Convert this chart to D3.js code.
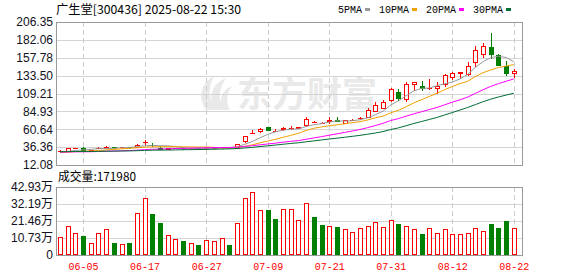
<!DOCTYPE html>
<html>
<head>
<meta charset="utf-8">
<script src="https://cdn.jsdelivr.net/npm/d3@7"></script>
<style>
  body { margin: 0; background: #fff; }
</style>
</head>
<body>
<div id="chart"></div>
<script>
// ---- data ----
const stockTitle = "广生堂[300436] 2025-08-22 15:30";
const volumeLabel = "成交量";

const dates = ["05-30","06-03","06-04","06-05","06-06","06-09","06-10","06-11","06-12","06-13",
  "06-16","06-17","06-18","06-19","06-20","06-23","06-24","06-25","06-26","06-27",
  "06-30","07-01","07-02","07-03","07-04","07-07","07-08","07-09","07-10","07-11",
  "07-14","07-15","07-16","07-17","07-18","07-21","07-22","07-23","07-24","07-25",
  "07-28","07-29","07-30","07-31","08-01","08-04","08-05","08-06","08-07","08-08",
  "08-11","08-12","08-13","08-14","08-15","08-18","08-19","08-20","08-21","08-22"];

const opens = [30.8,31.1,35.1,35.8,31.6,34.8,36.3,36.6,36.0,36.0,
  37.0,43.0,39.5,35.6,34.4,34.8,34.9,34.6,34.8,34.5,
  35.3,35.9,36.3,35.8,45.2,55.6,58.5,63.7,58.2,61.3,
  62.2,62.9,66.0,70.6,69.3,72.4,72.6,69.1,73.0,75.4,
  77.3,85.8,90.0,100.4,111.2,101.7,121.7,119.9,116.4,117.1,
  122.8,132.3,136.7,136.0,152.5,162.3,173.0,161.2,146.0,137.6];
const highs = [31.8,35.4,35.6,36.0,33.0,36.0,37.6,36.8,36.4,36.3,
  41.0,46.0,41.3,36.0,35.2,35.3,35.1,35.0,34.9,35.1,
  36.5,36.4,36.5,41.2,51.5,59.6,62.7,64.0,61.0,63.4,
  65.0,64.2,77.0,71.5,70.0,77.3,76.8,73.6,74.0,77.3,
  89.5,97.7,100.4,116.8,115.3,125.2,125.0,126.2,129.0,124.8,
  135.3,138.6,138.2,152.0,174.0,177.8,191.5,162.5,154.0,142.5];
const lows = [30.3,30.9,34.9,32.0,31.2,34.5,35.8,35.7,35.7,35.6,
  36.1,40.6,38.4,33.8,34.0,34.5,34.4,34.4,34.3,34.3,
  35.0,35.7,35.8,35.5,43.8,55.3,57.4,59.0,58.0,60.3,
  60.5,62.5,65.6,70.2,69.0,68.7,72.0,68.8,72.6,75.2,
  77.0,85.0,89.0,99.0,100.4,99.4,114.0,114.0,115.3,110.3,
  120.0,129.3,129.7,134.3,146.5,159.2,157.5,147.5,134.0,131.3];
const closes = [31.2,35.2,35.4,32.4,32.7,35.4,36.8,36.0,36.1,35.9,
  39.3,43.4,38.8,34.2,34.8,35.0,34.6,34.8,34.5,34.9,
  35.8,36.2,36.0,41.0,51.2,56.0,61.0,59.2,58.4,62.1,
  62.9,63.3,75.0,70.9,69.5,72.9,72.3,73.2,73.4,75.7,
  86.5,93.0,97.7,115.8,103.1,121.7,124.8,116.3,117.0,119.0,
  134.8,136.4,137.8,146.6,168.0,173.7,163.0,148.6,137.3,139.3];
const volumes = [111000,186000,136000,119000,73000,136000,161000,75000,67000,75000,
  264000,362000,258000,201000,124000,98000,88000,74000,62000,92000,
  86000,105000,61000,199000,362000,400000,287000,283000,226000,293000,
  293000,224000,331000,239000,188000,186000,176000,161000,144000,168000,
  186000,207000,174000,218000,195000,186000,161000,132000,168000,138000,
  161000,132000,130000,138000,168000,151000,195000,170000,214000,171980];

// closes before the window, needed for the moving averages at the left edge
const priorCloses = [31.5,31.8,32.2,31.9,31.4,31.0,31.6,32.0,31.2,30.8,
  30.5,30.9,31.3,30.6,30.2,29.8,29.5,29.9,29.3,28.9,
  28.7,28.4,28.9,28.6,28.3,28.8,29.0,28.5,28.7];

const priceTicks = [206.35,182.06,157.78,133.50,109.21,84.93,60.64,36.36,12.08];
const volumeTicks = [0,107325,214650,321975,429300];
const volumeTickLabels = ["0","10.73万","21.46万","32.19万","42.93万"];
const dateTicks = ["06-05","06-17","06-27","07-09","07-21","07-31","08-12","08-22"];
const maPeriods = [5,10,20,30];
const maNames = ["5PMA","10PMA","20PMA","30PMA"];

// ---- drawing ----
const width = 578, height = 276;
const left = 56, right = 522;
const mainTop = 22, mainBottom = 165;
const volTop = 187, volBottom = 255;

const upColor = "#ff0000", downColor = "#008000";
const maColors = ["#999999", "#f0a000", "#ff00ff", "#006e35"];
const gridColor = "#d4d4d4", borderColor = "#999999";
const labelFont = "'Liberation Sans', Arial, sans-serif";
const monoFont = "'Liberation Mono', 'DejaVu Sans Mono', monospace";
const cjkFont = "'Noto Sans CJK SC', sans-serif";

const svg = d3.select("#chart").append("svg")
  .attr("width", width)
  .attr("height", height)
  .style("display", "block")
  .style("background", "#fff");

const x = d3.scalePoint().domain(dates).range([60, 513.8]);
const y = d3.scaleLinear().domain([priceTicks[priceTicks.length - 1], priceTicks[0]]).range([mainBottom, mainTop]);
const yv = d3.scaleLinear().domain([0, volumeTicks[volumeTicks.length - 1]]).range([volBottom, volTop]);

const px = v => Math.round(v) + 0.5;

// watermark
const wm = svg.append("g").attr("fill", "#e9e9e9");
wm.append("path")
  .attr("d", "M206,110 C198,98 200,84 214,76 C208,88 208,100 216,110 Z M214,110 C208,96 212,84 226,78 C218,90 218,100 224,110 Z M222,110 C218,100 222,90 232,86 C226,94 226,102 230,110 Z");
wm.append("text")
  .attr("x", 237).attr("y", 107)
  .attr("font-family", cjkFont)
  .attr("font-weight", "bold")
  .attr("font-size", 35)
  .text("东方财富");

// horizontal grid, main panel
svg.append("g").selectAll("line")
  .data(priceTicks.slice(1, -1))
  .join("line")
  .attr("x1", left).attr("x2", right)
  .attr("y1", d => px(y(d))).attr("y2", d => px(y(d)))
  .attr("stroke", gridColor);

// horizontal grid, volume panel
svg.append("g").selectAll("line")
  .data(volumeTicks.slice(1, -1))
  .join("line")
  .attr("x1", left).attr("x2", right)
  .attr("y1", d => px(yv(d))).attr("y2", d => px(yv(d)))
  .attr("stroke", gridColor);

// vertical dashed grid in both panels
[[mainTop, mainBottom], [volTop, volBottom]].forEach(([t, b]) => {
  svg.append("g").selectAll("line")
    .data(dateTicks)
    .join("line")
    .attr("x1", d => px(x(d))).attr("x2", d => px(x(d)))
    .attr("y1", t).attr("y2", b)
    .attr("stroke", "#cccccc")
    .attr("stroke-dasharray", "5,3");
});

// moving averages
const allCloses = priorCloses.concat(closes);
const off = priorCloses.length;
const maSeries = maPeriods.map(n => closes.map((c, i) => d3.mean(allCloses.slice(off + i - n + 1, off + i + 1))));

const line = d3.line()
  .x((d, i) => x(dates[i]))
  .y(d => y(d));

// candles
const candles = svg.append("g");
dates.forEach((d, i) => {
  const o = opens[i], c = closes[i];
  const up = c >= o;
  const col = up ? upColor : downColor;
  const cx = Math.round(x(d));
  candles.append("line")
    .attr("x1", cx + 0.5).attr("x2", cx + 0.5)
    .attr("y1", Math.round(y(highs[i]))).attr("y2", Math.round(y(lows[i])) + 1)
    .attr("stroke", col);
  const top = Math.round(y(Math.max(o, c)));
  const bot = Math.round(y(Math.min(o, c)));
  if (bot - top < 1) {
    candles.append("line")
      .attr("x1", cx - 2).attr("x2", cx + 3)
      .attr("y1", top + 0.5).attr("y2", top + 0.5)
      .attr("stroke", col);
  } else if (up) {
    candles.append("rect")
      .attr("x", cx - 1.5).attr("y", top + 0.5)
      .attr("width", 4).attr("height", bot - top)
      .attr("fill", "#fff").attr("stroke", col);
  } else {
    candles.append("rect")
      .attr("x", cx - 2).attr("y", top)
      .attr("width", 5).attr("height", bot - top + 1)
      .attr("fill", col);
  }
});

svg.append("g").selectAll("path")
  .data(maSeries)
  .join("path")
  .attr("d", line)
  .attr("fill", "none")
  .attr("stroke", (d, i) => maColors[i])
  .attr("stroke-width", 1);

// volume bars, colored by close vs previous close
const vbars = svg.append("g");
dates.forEach((d, i) => {
  const prev = i === 0 ? priorCloses[priorCloses.length - 1] : closes[i - 1];
  const up = closes[i] >= prev;
  const cx = Math.round(x(d));
  const top = Math.round(yv(volumes[i]));
  if (up) {
    vbars.append("rect")
      .attr("x", cx - 1.5).attr("y", top + 0.5)
      .attr("width", 4).attr("height", volBottom - top - 1)
      .attr("fill", "#fff").attr("stroke", upColor);
  } else {
    vbars.append("rect")
      .attr("x", cx - 2).attr("y", top)
      .attr("width", 5).attr("height", volBottom - top)
      .attr("fill", downColor);
  }
});

// panel borders
[[mainTop, mainBottom], [volTop, volBottom]].forEach(([t, b]) => {
  svg.append("rect")
    .attr("x", left + 0.5).attr("y", t + 0.5)
    .attr("width", right - left).attr("height", b - t)
    .attr("fill", "none")
    .attr("stroke", borderColor);
});

// y axis labels
const yAxis = svg.append("g")
  .attr("transform", `translate(${left - 3},0)`)
  .call(d3.axisLeft(y).tickValues(priceTicks).tickFormat(d3.format(".2f")).tickSize(0).tickPadding(0));
yAxis.select(".domain").remove();
yAxis.selectAll("text")
  .attr("font-family", labelFont)
  .attr("font-size", 12)
  .attr("fill", "#111122");

const vAxis = svg.append("g")
  .attr("transform", `translate(${left - 3},0)`)
  .call(d3.axisLeft(yv).tickValues(volumeTicks).tickFormat((d, i) => volumeTickLabels[i]).tickSize(0).tickPadding(0));
vAxis.select(".domain").remove();
vAxis.selectAll("text")
  .attr("font-family", labelFont + ", " + cjkFont)
  .attr("font-size", 12)
  .attr("fill", "#111122");

// x axis labels
const xAxis = svg.append("g")
  .attr("transform", `translate(0,${volBottom})`)
  .call(d3.axisBottom(x).tickValues(dateTicks).tickSize(0).tickPadding(0));
xAxis.select(".domain").remove();
xAxis.selectAll("text")
  .attr("y", 15)
  .attr("dy", 0)
  .attr("font-family", monoFont)
  .attr("font-size", 10)
  .attr("fill", "#ff0000");

// title
svg.append("text")
  .attr("x", 56).attr("y", 13.5)
  .attr("font-family", cjkFont)
  .attr("font-size", 12)
  .attr("textLength", 185)
  .attr("lengthAdjust", "spacingAndGlyphs")
  .attr("fill", "#000")
  .text(stockTitle);

// volume caption
svg.append("text")
  .attr("x", 58).attr("y", 181)
  .attr("font-family", cjkFont)
  .attr("font-size", 12)
  .attr("textLength", 78)
  .attr("lengthAdjust", "spacingAndGlyphs")
  .attr("fill", "#000")
  .text(volumeLabel + ":" + volumes[volumes.length - 1]);

// legend
const legend = svg.append("g");
let lx = 338;
maNames.forEach((name, i) => {
  legend.append("text")
    .attr("x", lx).attr("y", 13)
    .attr("font-family", monoFont)
    .attr("font-size", 10)
    .attr("fill", "#000")
    .text(name);
  const w = name.length * 6;
  legend.append("rect")
    .attr("x", lx + w + 3).attr("y", 8)
    .attr("width", 5).attr("height", 3)
    .attr("fill", maColors[i]);
  lx += w + 3 + 5 + 9;
});
</script>
</body>
</html>
